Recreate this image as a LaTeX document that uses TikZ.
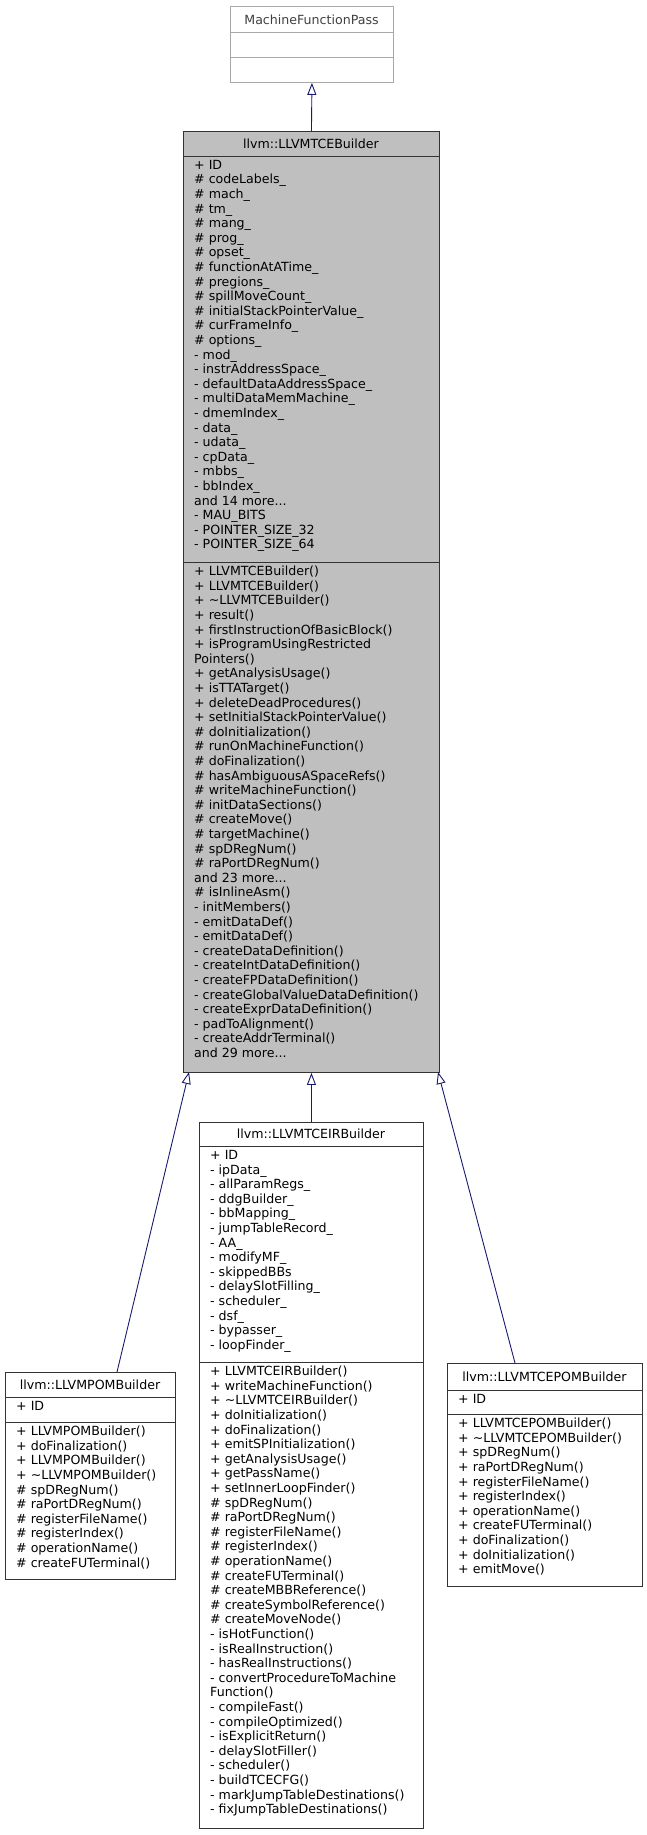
\documentclass[tikz,border=0pt]{standalone}
\usepackage{fontspec}
\setmainfont{DejaVu Sans}
\usetikzlibrary{arrows.meta}
\definecolor{navy}{HTML}{191970}
\definecolor{boxgrey}{HTML}{BFBFBF}
\definecolor{mfpgrey}{HTML}{A8A8A8}
\tikzset{
  box/.style={draw=black!80, line width=0.9pt, anchor=north west, inner sep=0pt},
  txt/.style={anchor=north west, inner sep=0pt, align=left, font=\fontsize{12.6}{14.6}\selectfont},
  ttl/.style={inner sep=0pt, font=\fontsize{12.6}{14.6}\selectfont},
  inh/.style={navy, line width=0.9pt, -{Triangle[open,length=12pt,width=9pt,fill=white]}}
}
\begin{document}
\begin{tikzpicture}[x=1pt,y=-1pt]
\useasboundingbox (0,0) rectangle (647,1835);
% MachineFunctionPass
\node (mfp) [box, draw=mfpgrey, minimum width=163pt, minimum height=76pt] at (230,6) {};
\draw[mfpgrey, line width=0.9pt] (230,32) -- (393,32) (230,57) -- (393,57);
\node (mfpt) [ttl, text=black!75] at (311.5,19.5) {MachineFunctionPass};
% LLVMTCEBuilder
\node (tce) [box, fill=boxgrey, minimum width=256pt, minimum height=941pt] at (183,131) {};
\draw[black!80, line width=0.9pt] (183,156) -- (439,156) (183,562) -- (439,562);
\node (tcet) [ttl] at (311,144) {llvm::LLVMTCEBuilder};
\node (tcea) [txt] at (194,160) {+ ID\\\# codeLabels\_\\\# mach\_\\\# tm\_\\\# mang\_\\\# prog\_\\\# opset\_\\\# functionAtATime\_\\\# pregions\_\\\# spillMoveCount\_\\\# initialStackPointerValue\_\\\# curFrameInfo\_\\\# options\_\\- mod\_\\- instrAddressSpace\_\\- defaultDataAddressSpace\_\\- multiDataMemMachine\_\\- dmemIndex\_\\- data\_\\- udata\_\\- cpData\_\\- mbbs\_\\- bbIndex\_\\and 14 more...\\- MAU\_BITS\\- POINTER\_SIZE\_32\\- POINTER\_SIZE\_64};
\node (tcem) [txt] at (194,566) {+ LLVMTCEBuilder()\\+ LLVMTCEBuilder()\\+ \textasciitilde LLVMTCEBuilder()\\+ result()\\+ firstInstructionOfBasicBlock()\\+ isProgramUsingRestricted\\Pointers()\\+ getAnalysisUsage()\\+ isTTATarget()\\+ deleteDeadProcedures()\\+ setInitialStackPointerValue()\\\# doInitialization()\\\# runOnMachineFunction()\\\# doFinalization()\\\# hasAmbiguousASpaceRefs()\\\# writeMachineFunction()\\\# initDataSections()\\\# createMove()\\\# targetMachine()\\\# spDRegNum()\\\# raPortDRegNum()\\and 23 more...\\\# isInlineAsm()\\- initMembers()\\- emitDataDef()\\- emitDataDef()\\- createDataDefinition()\\- createIntDataDefinition()\\- createFPDataDefinition()\\- createGlobalValueDataDefinition()\\- createExprDataDefinition()\\- padToAlignment()\\- createAddrTerminal()\\and 29 more...};
% LLVMTCEIRBuilder
\node (ir) [box, fill=white, minimum width=224pt, minimum height=706pt] at (199,1122) {};
\draw[black!80, line width=0.9pt] (199,1146) -- (423,1146) (199,1362) -- (423,1362);
\node (irt) [ttl] at (311,1134) {llvm::LLVMTCEIRBuilder};
\node (ira) [txt] at (210,1150) {+ ID\\- ipData\_\\- allParamRegs\_\\- ddgBuilder\_\\- bbMapping\_\\- jumpTableRecord\_\\- AA\_\\- modifyMF\_\\- skippedBBs\\- delaySlotFilling\_\\- scheduler\_\\- dsf\_\\- bypasser\_\\- loopFinder\_};
\node (irm) [txt] at (210,1366) {+ LLVMTCEIRBuilder()\\+ writeMachineFunction()\\+ \textasciitilde LLVMTCEIRBuilder()\\+ doInitialization()\\+ doFinalization()\\+ emitSPInitialization()\\+ getAnalysisUsage()\\+ getPassName()\\+ setInnerLoopFinder()\\\# spDRegNum()\\\# raPortDRegNum()\\\# registerFileName()\\\# registerIndex()\\\# operationName()\\\# createFUTerminal()\\\# createMBBReference()\\\# createSymbolReference()\\\# createMoveNode()\\- isHotFunction()\\- isRealInstruction()\\- hasRealInstructions()\\- convertProcedureToMachine\\Function()\\- compileFast()\\- compileOptimized()\\- isExplicitReturn()\\- delaySlotFiller()\\- scheduler()\\- buildTCECFG()\\- markJumpTableDestinations()\\- fixJumpTableDestinations()};
% LLVMPOMBuilder
\node (pom) [box, fill=white, minimum width=170pt, minimum height=207pt] at (5,1372) {};
\draw[black!80, line width=0.9pt] (5,1397) -- (175,1397) (5,1422) -- (175,1422);
\node (pomt) [ttl] at (90,1384.5) {llvm::LLVMPOMBuilder};
\node (poma) [txt] at (16,1401) {+ ID};
\node (pomm) [txt] at (16,1426) {+ LLVMPOMBuilder()\\+ doFinalization()\\+ LLVMPOMBuilder()\\+ \textasciitilde LLVMPOMBuilder()\\\# spDRegNum()\\\# raPortDRegNum()\\\# registerFileName()\\\# registerIndex()\\\# operationName()\\\# createFUTerminal()};
% LLVMTCEPOMBuilder
\node (tpom) [box, fill=white, minimum width=195pt, minimum height=223pt] at (447,1363) {};
\draw[black!80, line width=0.9pt] (447,1390) -- (642,1390) (447,1414) -- (642,1414);
\node (tpomt) [ttl] at (544.5,1376.5) {llvm::LLVMTCEPOMBuilder};
\node (tpoma) [txt] at (458,1394) {+ ID};
\node (tpomm) [txt] at (458,1418) {+ LLVMTCEPOMBuilder()\\+ \textasciitilde LLVMTCEPOMBuilder()\\+ spDRegNum()\\+ raPortDRegNum()\\+ registerFileName()\\+ registerIndex()\\+ operationName()\\+ createFUTerminal()\\+ doFinalization()\\+ doInitialization()\\+ emitMove()};
% inheritance
\coordinate (pomtop) at (117,1372);
\coordinate (tpomtop) at (515,1363);
\coordinate (tcebl) at (189,1072);
\coordinate (tcebr) at (438,1072);
\draw[inh] (tce.north) -- (mfp.south);
\draw[inh] (ir.north) -- (tce.south);
\draw[inh] (pomtop) -- (tcebl);
\draw[inh] (tpomtop) -- (tcebr);
\end{tikzpicture}
\end{document}
